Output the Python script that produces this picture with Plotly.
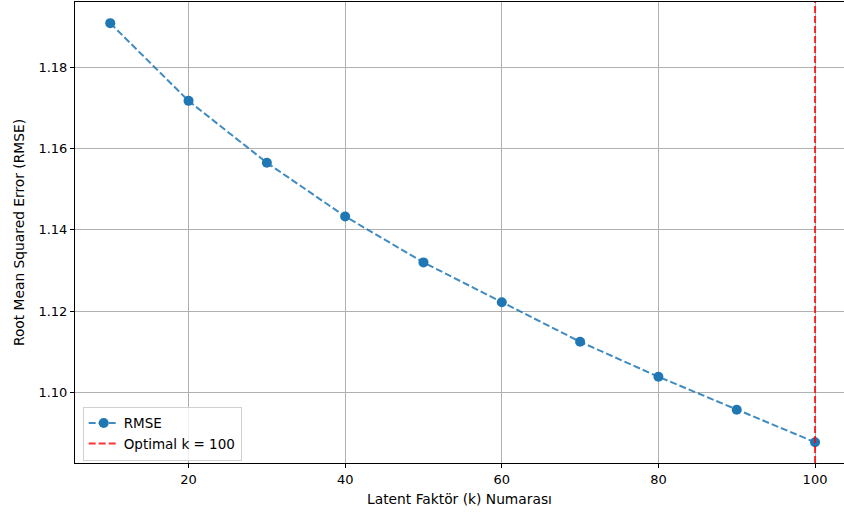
import plotly.graph_objects as go

k_values = [10, 20, 30, 40, 50, 60, 70, 80, 90, 100]
rmse_values = [1.1908, 1.1717, 1.1565, 1.1433, 1.1320, 1.1222, 1.1125, 1.1039, 1.0958, 1.0878]
optimal_k = 100
x_ticks = [20, 40, 60, 80, 100]
y_ticks = [1.10, 1.12, 1.14, 1.16, 1.18]

blue = "#1f77b4"
red = "rgba(255,0,0,0.8)"

fig = go.Figure()
fig.add_trace(go.Scatter(
    x=k_values, y=rmse_values, mode="lines+markers", name="RMSE",
    line=dict(color="rgba(31,119,180,0.85)", dash="7px,3px", width=2),
    marker=dict(color=blue, size=10),
))
fig.add_trace(go.Scatter(
    x=[None], y=[None], mode="lines", name=f"Optimal k = {optimal_k}",
    line=dict(color=red, dash="7px,3px", width=2),
))
fig.add_vline(x=optimal_k, line=dict(color=red, dash="7px,3px", width=2))

fig.update_layout(
    width=844, height=515,
    margin=dict(l=75, r=0, t=2, b=52),
    paper_bgcolor="white", plot_bgcolor="white",
    font=dict(family="DejaVu Sans", size=13, color="#000000"),
    showlegend=True,
    legend=dict(x=0.01, y=0.005, xanchor="left", yanchor="bottom",
                bordercolor="#d0d0d0", borderwidth=1, bgcolor="rgba(255,255,255,0.8)",
                font=dict(family="DejaVu Sans", size=13.5, color="#000000"),
                itemwidth=30, tracegroupgap=0),
)
fig.update_xaxes(
    range=[5.5, 103.7], tickvals=x_ticks, ticktext=[str(v) for v in x_ticks],
    showgrid=True, gridcolor="#b0b0b0", gridwidth=1,
    showline=True, linecolor="#000000", linewidth=1, mirror=True,
    ticks="outside", ticklen=4, tickcolor="#000000", zeroline=False,
    automargin=False, tickfont=dict(size=13),
    title=dict(text="Latent Faktör (k) Numarası", font=dict(family="DejaVu Sans", size=13.8), standoff=8),
)
fig.update_yaxes(
    range=[1.0827, 1.1960], tickvals=y_ticks, ticktext=[f"{v:.2f}" for v in y_ticks],
    showgrid=True, gridcolor="#b0b0b0", gridwidth=1,
    showline=True, linecolor="#000000", linewidth=1, mirror=False,
    ticks="outside", ticklen=4, tickcolor="#000000", zeroline=False,
    automargin=False, tickfont=dict(size=13),
    title=dict(text="Root Mean Squared Error (RMSE)", font=dict(family="DejaVu Sans", size=13.8), standoff=10),
)
fig.write_html("out.html", config={"displayModeBar": False},
               post_script="document.body.style.margin='0';document.body.style.padding='0';")
